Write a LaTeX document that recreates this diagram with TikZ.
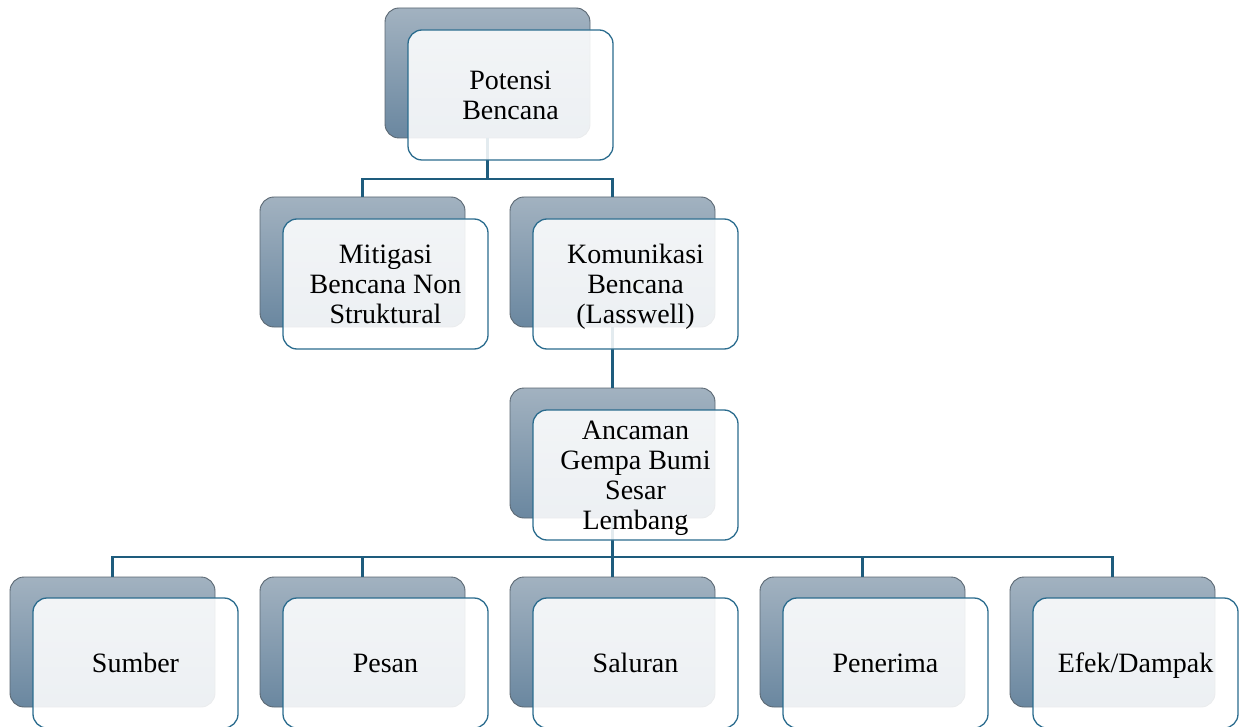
\documentclass[tikz,border=0pt]{standalone}
\usepackage{fontspec}
\setmainfont{Liberation Serif}
\definecolor{backtop}{HTML}{A2B2C0}
\definecolor{backbot}{HTML}{6A87A0}
\definecolor{backline}{HTML}{5A6772}
\definecolor{frontline}{HTML}{2B6C8E}
\definecolor{conn}{HTML}{1E5C7D}
\tikzset{
  backbox/.style={draw=backline, line width=0.9pt, rounded corners=14pt,
    top color=backtop, bottom color=backbot, minimum width=205pt,
    minimum height=130pt, inner sep=0pt, outer sep=0pt},
  frontbox/.style={draw=frontline, line width=1.3pt, rounded corners=14pt,
    fill=white, fill opacity=0.88, text opacity=1, minimum width=205pt,
    minimum height=130pt, inner sep=0pt, outer sep=0pt, align=center,
    text depth=0pt, font=\fontsize{28}{30}\selectfont},
  connector/.style={draw=conn, line width=2.6pt}
}
\begin{document}
\begin{tikzpicture}[x=1pt,y=-1pt]
\useasboundingbox (0,0) rectangle (1241,727);
% back boxes
\node[backbox] (b0) at (487.5,73) {};
\node[backbox] (b1) at (362.5,262) {};
\node[backbox] (b2) at (612.5,262) {};
\node[backbox] (b3) at (612.5,453) {};
\node[backbox] (b4) at (112.5,642) {};
\node[backbox] (b5) at (362.5,642) {};
\node[backbox] (b6) at (612.5,642) {};
\node[backbox] (b7) at (862.5,642) {};
\node[backbox] (b8) at (1112.5,642) {};
% connectors
\coordinate (bus1) at (487.5,179);
\coordinate (bus3) at (612.5,557);
\draw[connector] (b0.south) -- (bus1) -| (b1.north);
\draw[connector] (bus1) -| (b2.north);
\draw[connector] (b2.south) -- (b3.north);
\draw[connector] (b3.south) -- (bus3) -| (b4.north);
\draw[connector] (bus3) -| (b5.north);
\draw[connector] (bus3) -- (b6.north);
\draw[connector] (bus3) -| (b7.north);
\draw[connector] (bus3) -| (b8.north);
% front boxes
\node[frontbox] (f0) at (510.5,95) {Potensi\\Bencana};
\node[frontbox] (f1) at (385.5,284) {Mitigasi\\Bencana Non\\Struktural};
\node[frontbox] (f2) at (635.5,284) {Komunikasi\\Bencana\\(Lasswell)};
\node[frontbox] (f3) at (635.5,475) {Ancaman\\Gempa Bumi\\Sesar\\Lembang};
\node[frontbox] (f4) at (135.5,663) {Sumber};
\node[frontbox] (f5) at (385.5,663) {Pesan};
\node[frontbox] (f6) at (635.5,663) {Saluran};
\node[frontbox] (f7) at (885.5,663) {Penerima};
\node[frontbox] (f8) at (1135.5,663) {Efek/Dampak};
\end{tikzpicture}
\end{document}
